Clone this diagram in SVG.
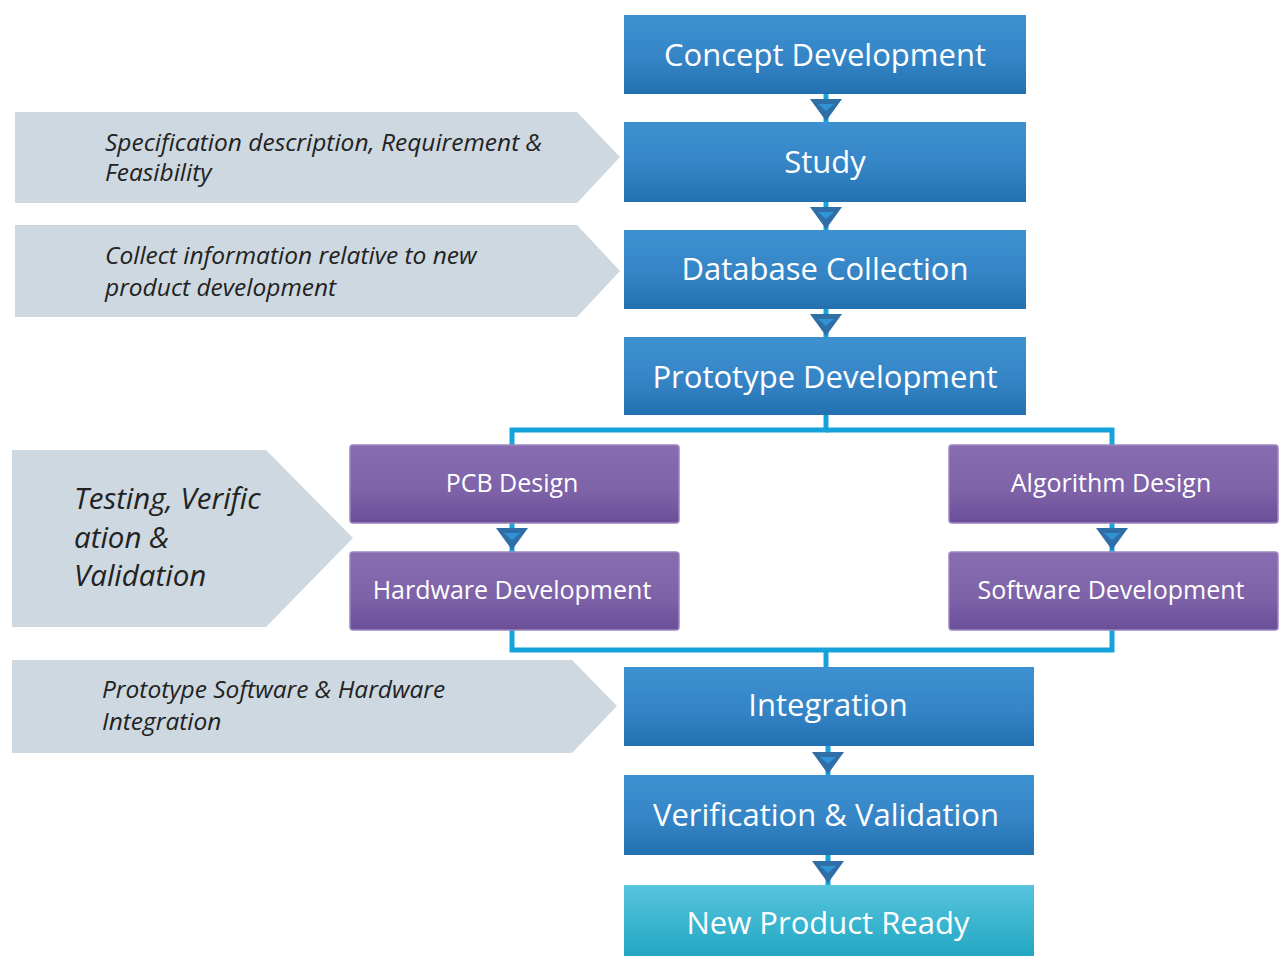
<svg xmlns="http://www.w3.org/2000/svg" width="1280" height="956" viewBox="0 0 1280 956">
<defs>
<linearGradient id="gBlue" x1="0" y1="0" x2="0" y2="1">
<stop offset="0" stop-color="#3e91d0"/><stop offset="0.55" stop-color="#3585c6"/><stop offset="1" stop-color="#2270b0"/>
</linearGradient>
<linearGradient id="gPurple" x1="0" y1="0" x2="0" y2="1">
<stop offset="0" stop-color="#876db0"/><stop offset="0.6" stop-color="#7d62a8"/><stop offset="1" stop-color="#6a4f98"/>
</linearGradient>
<linearGradient id="gCyan" x1="0" y1="0" x2="0" y2="1">
<stop offset="0" stop-color="#58c4de"/><stop offset="1" stop-color="#22a7c2"/>
</linearGradient>
<g id="tri">
<polygon points="-16,0 16,0 0,22" fill="#2f6ea6"/>
<polygon points="-8,5 8,5 0,12" fill="#2f93d4"/>
</g>
</defs>
<style>
.blue{fill:url(#gBlue);}
.purple{fill:url(#gPurple);stroke:#9a86c0;stroke-width:1.5;}
.cyanbox{fill:url(#gCyan);}
.gray{fill:#cdd8e0;}
.bt{font-family:"Open Sans","Liberation Sans",sans-serif;fill:#fff;text-anchor:middle;font-size:31px;}
.pt{font-family:"Open Sans","Liberation Sans",sans-serif;fill:#fff;text-anchor:middle;font-size:25px;}
.gt{font-family:"Open Sans","Liberation Sans",sans-serif;fill:#222;font-style:italic;font-size:24.5px;}
.gt2{font-family:"Open Sans","Liberation Sans",sans-serif;fill:#222;font-style:italic;font-size:29.5px;}
.conn{fill:none;stroke:#16a3dc;stroke-width:5;}
</style>

<g id="labels">
<g id="label-spec">
<polygon class="gray" points="15,112 577,112 620,157 577,203 15,203"/>
<text class="gt" x="105" y="151">Specification description, Requirement &amp;</text>
<text class="gt" x="105" y="181">Feasibility</text>
</g>
<g id="label-collect">
<polygon class="gray" points="15,225 577,225 620,271 577,317 15,317"/>
<text class="gt" x="105" y="264">Collect information relative to new</text>
<text class="gt" x="105" y="296">product development</text>
</g>
<g id="label-testing">
<polygon class="gray" points="12,450 266,450 353,538 266,627 12,627"/>
<text class="gt2" x="74" y="509">Testing, Verific</text>
<text class="gt2" x="74" y="548">ation &amp;</text>
<text class="gt2" x="74" y="586">Validation</text>
</g>
<g id="label-integration">
<polygon class="gray" points="12,660 572,660 617,706 572,753 12,753"/>
<text class="gt" x="102" y="698">Prototype Software &amp; Hardware</text>
<text class="gt" x="102" y="730">Integration</text>
</g>
</g>

<g id="connectors">
<line class="conn" x1="826" y1="94" x2="826" y2="122"/>
<line class="conn" x1="826" y1="202" x2="826" y2="230"/>
<line class="conn" x1="826" y1="309" x2="826" y2="337"/>
<polyline class="conn" points="826,415 826,430 512,430 512,445"/>
<polyline class="conn" points="826,430 1112,430 1112,445"/>
<line class="conn" x1="512" y1="523" x2="512" y2="552"/>
<line class="conn" x1="1112" y1="523" x2="1112" y2="552"/>
<polyline class="conn" points="512,630 512,650 1112,650 1112,630"/>
<line class="conn" x1="826" y1="650" x2="826" y2="667"/>
<line class="conn" x1="828" y1="746" x2="828" y2="775"/>
<line class="conn" x1="828" y1="855" x2="828" y2="885"/>
<use href="#tri" x="826" y="99"/>
<use href="#tri" x="826" y="207"/>
<use href="#tri" x="826" y="314"/>
<use href="#tri" x="512" y="528"/>
<use href="#tri" x="1112" y="528"/>
<use href="#tri" x="828" y="752"/>
<use href="#tri" x="828" y="861"/>
</g>

<g id="node-concept">
<rect class="blue" x="624" y="15" width="402" height="79"/>
<text class="bt" x="825" y="66">Concept Development</text>
</g>
<g id="node-study">
<rect class="blue" x="624" y="122" width="402" height="80"/>
<text class="bt" x="825" y="173">Study</text>
</g>
<g id="node-database">
<rect class="blue" x="624" y="230" width="402" height="79"/>
<text class="bt" x="825" y="280">Database Collection</text>
</g>
<g id="node-prototype">
<rect class="blue" x="624" y="337" width="402" height="78"/>
<text class="bt" x="825" y="388">Prototype Development</text>
</g>
<g id="node-pcb">
<rect class="purple" x="350" y="445" width="329" height="78" rx="3"/>
<text class="pt" x="512" y="492">PCB Design</text>
</g>
<g id="node-hardware">
<rect class="purple" x="350" y="552" width="329" height="78" rx="3"/>
<text class="pt" x="512" y="599">Hardware Development</text>
</g>
<g id="node-algorithm">
<rect class="purple" x="949" y="445" width="329" height="78" rx="3"/>
<text class="pt" x="1111" y="492">Algorithm Design</text>
</g>
<g id="node-software">
<rect class="purple" x="949" y="552" width="329" height="78" rx="3"/>
<text class="pt" x="1111" y="599">Software Development</text>
</g>
<g id="node-integration">
<rect class="blue" x="624" y="667" width="410" height="79"/>
<text class="bt" x="828" y="716">Integration</text>
</g>
<g id="node-verification">
<rect class="blue" x="624" y="775" width="410" height="80"/>
<text class="bt" x="826" y="826">Verification &amp; Validation</text>
</g>
<g id="node-ready">
<rect class="cyanbox" x="624" y="885" width="410" height="71"/>
<text class="bt" x="828" y="934">New Product Ready</text>
</g>
</svg>
